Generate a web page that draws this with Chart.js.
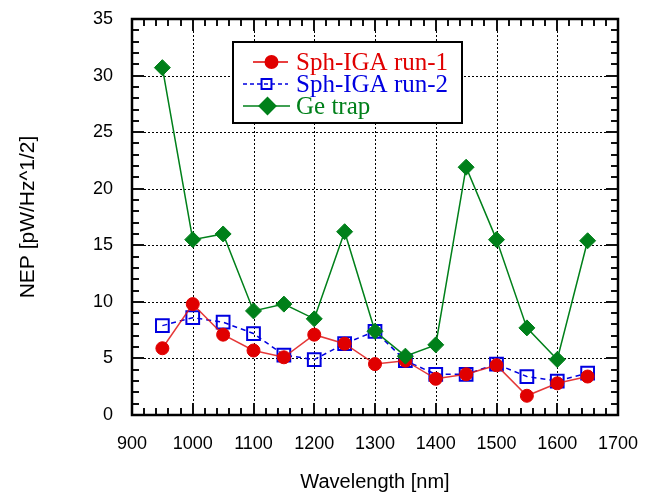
<!DOCTYPE html>
<html lang="en">
<head>
  <meta charset="UTF-8">
  <title>NEP vs Wavelength</title>
  <script src="https://cdn.jsdelivr.net/npm/chart.js"></script>
  <style>
    body { margin: 0; background: #fff; }
    #wrap { width: 647px; height: 498px; }
  </style>
</head>
<body>
  <div id="wrap"><canvas id="nepChart" width="647" height="498"></canvas></div>

  <script>
    // data
    const wavelengths = [950, 1000, 1050, 1100, 1150, 1200, 1250, 1300, 1350, 1400, 1450, 1500, 1550, 1600, 1650];
    const run1 = [5.9, 9.8, 7.1, 5.7, 5.1, 7.1, 6.3, 4.5, 4.8, 3.2, 3.6, 4.4, 1.7, 2.8, 3.4];
    const run2 = [7.9, 8.6, 8.2, 7.2, 5.3, 4.9, 6.3, 7.4, 4.8, 3.6, 3.6, 4.5, 3.4, 3.0, 3.7];
    const geTrap = [30.7, 15.5, 16.0, 9.2, 9.8, 8.5, 16.2, 7.4, 5.2, 6.2, 21.9, 15.5, 7.7, 4.9, 15.4];
    const seriesNames = ['Sph-IGA run-1', 'Sph-IGA run-2', 'Ge trap'];

    const RED = '#e00000', BLUE = '#0000e0', GREEN = '#00801a';

    const pts = arr => arr.map((v, i) => ({ x: wavelengths[i], y: v }));

    // dotted grid, inward ticks on all four sides, heavy frame
    const framePlugin = {
      id: 'frame',
      beforeDatasetsDraw(chart) {
        const { ctx, chartArea: a, scales: { x, y } } = chart;
        ctx.save();
        ctx.strokeStyle = '#000';
        ctx.lineWidth = 1;
        ctx.setLineDash([2, 2]);
        for (let v = 1000; v < 1700; v += 100) {
          const px = Math.round(x.getPixelForValue(v)) + 0.5;
          ctx.beginPath(); ctx.moveTo(px, a.top); ctx.lineTo(px, a.bottom); ctx.stroke();
        }
        for (let v = 5; v < 35; v += 5) {
          const py = Math.round(y.getPixelForValue(v)) + 0.5;
          ctx.beginPath(); ctx.moveTo(a.left, py); ctx.lineTo(a.right, py); ctx.stroke();
        }
        ctx.setLineDash([]);
        ctx.lineWidth = 2;
        ctx.strokeStyle = '#111';
        for (let v = 900; v <= 1700; v += 20) {
          const px = Math.round(x.getPixelForValue(v));
          const len = v % 100 === 0 ? 12 : 7;
          ctx.beginPath();
          ctx.moveTo(px, a.bottom); ctx.lineTo(px, a.bottom - len);
          ctx.moveTo(px, a.top); ctx.lineTo(px, a.top + len);
          ctx.stroke();
        }
        for (let v = 0; v <= 35; v += 1) {
          const py = Math.round(y.getPixelForValue(v));
          const len = v % 5 === 0 ? 12 : 7;
          ctx.beginPath();
          ctx.moveTo(a.left, py); ctx.lineTo(a.left + len, py);
          ctx.moveTo(a.right, py); ctx.lineTo(a.right - len, py);
          ctx.stroke();
        }
        ctx.lineWidth = 2.5;
        ctx.strokeStyle = '#000';
        ctx.strokeRect(a.left, a.top, a.right - a.left, a.bottom - a.top);
        ctx.restore();
      },
      afterDraw(chart) {
        // legend box inside the plot
        const ctx = chart.ctx;
        const bx = 233, by = 42, bw = 229, bh = 81;
        ctx.save();
        ctx.fillStyle = '#fff';
        ctx.fillRect(bx, by, bw, bh);
        ctx.strokeStyle = '#000';
        ctx.lineWidth = 2;
        ctx.strokeRect(bx, by, bw, bh);
        const rows = [
          { c: RED, y: 62, x0: 253, x1: 288, dash: [], style: 'circle', r: 6, fill: RED },
          { c: BLUE, y: 84, x0: 243, x1: 288, dash: [4, 3], style: 'rect', r: 7, fill: 'rgba(0,0,0,0)' },
          { c: GREEN, y: 106, x0: 243, x1: 290, dash: [], style: 'rectRot', r: 8, fill: GREEN }
        ];
        ctx.font = '25px "Liberation Serif", "Times New Roman", serif';
        ctx.textBaseline = 'middle';
        rows.forEach((r, i) => {
          ctx.strokeStyle = r.c;
          ctx.lineWidth = 1.5;
          ctx.setLineDash(r.dash);
          ctx.beginPath(); ctx.moveTo(r.x0, r.y); ctx.lineTo(r.x1, r.y); ctx.stroke();
          ctx.setLineDash([]);
          ctx.fillStyle = r.fill;
          ctx.lineWidth = 2;
          Chart.helpers.drawPoint(ctx, { pointStyle: r.style, radius: r.r, borderWidth: 2, rotation: 0 }, (r.x0 + r.x1) / 2 + 1, r.y);
          ctx.fillStyle = r.c;
          ctx.fillText(seriesNames[i], 296, r.y + 1);
        });
        ctx.restore();
      }
    };

    new Chart(document.getElementById('nepChart'), {
      type: 'line',
      data: {
        datasets: [
          {
            label: seriesNames[2],
            data: pts(geTrap),
            borderColor: GREEN,
            backgroundColor: GREEN,
            borderWidth: 1.5,
            pointStyle: 'rectRot',
            pointRadius: 8,
            pointBorderWidth: 1,
            order: 0
          },
          {
            label: seriesNames[0],
            data: pts(run1),
            borderColor: 'rgba(225,20,20,0.85)',
            backgroundColor: RED,
            pointBorderColor: RED,
            borderWidth: 1.5,
            pointStyle: 'circle',
            pointRadius: 6.5,
            pointBorderWidth: 1,
            order: 1
          },
          {
            label: seriesNames[1],
            data: pts(run2),
            borderColor: BLUE,
            backgroundColor: 'rgba(0,0,0,0)',
            borderWidth: 1.5,
            borderDash: [5, 4],
            pointStyle: 'rect',
            pointRadius: 9,
            pointBorderWidth: 2,
            order: 2
          }
        ]
      },
      options: {
        responsive: false,
        animation: false,
        layout: { padding: { top: 19, right: 29, left: 0, bottom: 0 } },
        plugins: { legend: { display: false }, tooltip: { enabled: false } },
        scales: {
          x: {
            type: 'linear',
            min: 900, max: 1700,
            grid: { display: false },
            border: { display: false },
            ticks: {
              stepSize: 100,
              color: '#000',
              padding: 10,
              callback: v => String(v),
              font: { family: '"Liberation Sans", Arial, sans-serif', size: 18 }
            },
            title: {
              display: true,
              text: 'Wavelength [nm]',
              color: '#000',
              padding: { top: 8, bottom: 4 },
              font: { family: '"Liberation Sans", Arial, sans-serif', size: 20 }
            },
            afterFit(s) { s.height = 83; s.paddingLeft = 0; s.paddingRight = 0; }
          },
          y: {
            min: 0, max: 35,
            grid: { display: false },
            border: { display: false },
            ticks: {
              stepSize: 5,
              color: '#000',
              padding: 11,
              font: { family: '"Liberation Sans", Arial, sans-serif', size: 18 }
            },
            title: {
              display: true,
              text: 'NEP [pW/Hz^1/2]',
              color: '#000',
              padding: { top: 16, bottom: 4 },
              font: { family: '"Liberation Sans", Arial, sans-serif', size: 21 }
            },
            afterFit(s) { s.width = 132; s.paddingTop = 0; s.paddingBottom = 0; }
          }
        }
      },
      plugins: [framePlugin]
    });
  </script>
</body>
</html>
